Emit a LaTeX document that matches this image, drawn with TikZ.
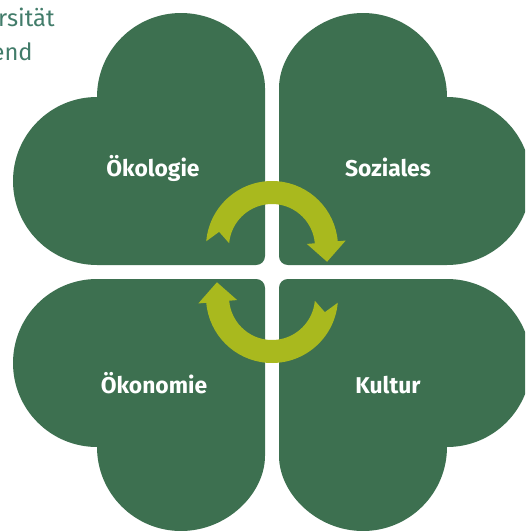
\documentclass[tikz,border=0pt]{standalone}
\usepackage{fontspec}
\setmainfont{Fira Sans}
\definecolor{leafgreen}{RGB}{61,112,80}
\definecolor{turngreen}{RGB}{169,185,30}
\definecolor{headtext}{RGB}{66,124,106}
\begin{document}
\begin{tikzpicture}[x=0.02cm,y=-0.02cm,
  leaf/.style={fill=leafgreen},
  turn/.style={fill=turngreen},
  leaftext/.style={text=white,font=\bfseries\fontsize{13}{15}\selectfont,anchor=base,inner sep=0pt},
  headline/.style={text=headtext,font=\fontsize{13.5}{16}\selectfont,anchor=base east,inner sep=0pt}]
\useasboundingbox (0,0) rectangle (525,531);
\clip (0,0) rectangle (525,531);
\foreach \sx/\sy in {1/1,-1/1,1/-1,-1/-1}
  \fill[leaf,shift={({272-7*\sx},{272-7*\sy})},xscale=\sx,yscale=\sy]
    (0,-168) arc[start angle=0,end angle=-180,radius=84]
    arc[start angle=-90,end angle=-270,radius=84]
    [rounded corners=5] -- (0,0) -- cycle;
\foreach \cy/\rot in {247/0,297/180}
  \fill[turn,shift={(272,\cy)},rotate=\rot]
    (185:66) arc[start angle=185,end angle=355,radius=66]
    -- (355:74) -- (15:57) -- (355:35) -- (355:43)
    arc[start angle=355,end angle=185,radius=43]
    -- (196:55) -- cycle;
\node[leaftext] (oekologie) at (153,176) {Ökologie};
\node[leaftext] (soziales) at (388,176) {Soziales};
\node[leaftext] (oekonomie) at (154,393) {Ökonomie};
\node[leaftext] (kultur) at (388,393) {Kultur};
\node[headline] (rsitaet) at (55,26) {rsität};
\node[headline] (endtext) at (33,60) {end};
\end{tikzpicture}
\end{document}
